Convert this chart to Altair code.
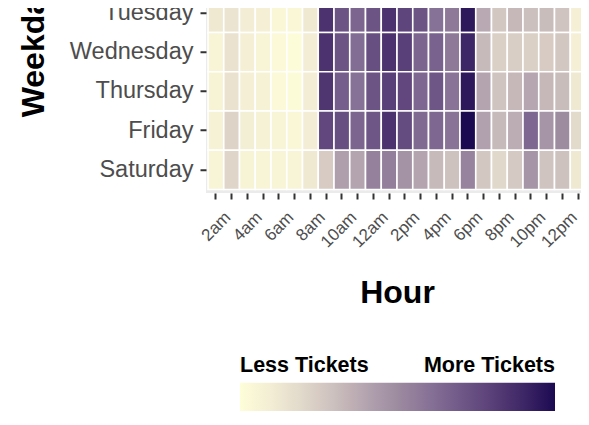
import altair as alt
import pandas as pd

days = ["Tuesday", "Wednesday", "Thursday", "Friday", "Saturday"]
hours = list(range(1, 25))
hour_labels = ["2am", "4am", "6am", "8am", "10am", "12am",
               "2pm", "4pm", "6pm", "8pm", "10pm", "12pm"]

tuesday = [0.12, 0.14, 0.10, 0.08, 0.04, 0.04, 0.12, 0.85, 0.72, 0.65, 0.72, 0.85,
           0.78, 0.72, 0.60, 0.57, 0.95, 0.38, 0.27, 0.33, 0.30, 0.31, 0.28, 0.08]
wednesday = [0.05, 0.15, 0.08, 0.05, 0.03, 0.01, 0.10, 0.85, 0.72, 0.62, 0.74, 0.85,
             0.80, 0.65, 0.66, 0.57, 0.90, 0.32, 0.23, 0.24, 0.23, 0.25, 0.27, 0.08]
thursday = [0.06, 0.15, 0.08, 0.07, 0.03, 0.02, 0.10, 0.84, 0.68, 0.60, 0.72, 0.80,
            0.77, 0.64, 0.71, 0.59, 0.95, 0.40, 0.28, 0.33, 0.39, 0.33, 0.31, 0.12]
friday = [0.07, 0.22, 0.09, 0.07, 0.05, 0.04, 0.10, 0.77, 0.74, 0.65, 0.71, 0.85,
          0.75, 0.63, 0.64, 0.59, 1.00, 0.41, 0.32, 0.37, 0.64, 0.46, 0.50, 0.19]
saturday = [0.05, 0.21, 0.06, 0.05, 0.05, 0.05, 0.12, 0.25, 0.42, 0.40, 0.54, 0.55,
            0.47, 0.40, 0.32, 0.29, 0.53, 0.27, 0.20, 0.26, 0.46, 0.28, 0.29, 0.12]

grad_stops = [0, 0.1, 0.2, 0.3, 0.4, 0.5, 0.6, 0.7, 0.8, 0.9, 1.0]
grad_colors = ["#FEFED9", "#F2EDD4", "#E0D8CA", "#CBC0BE", "#B3A4B0", "#9D8BA0",
               "#877297", "#705988", "#5A4078", "#3E2766", "#1B0A52"]
legend_values = [0, 1]
legend_texts = ["Less Tickets", "More Tickets"]

rows = {"Tuesday": tuesday, "Wednesday": wednesday, "Thursday": thursday,
        "Friday": friday, "Saturday": saturday}
records = []
for d in days:
    for h, v in zip(hours, rows[d]):
        records.append({"Weekday": d, "Hour": h, "Tickets": v})
df = pd.DataFrame(records)

label_array = "[" + ",".join("'" + s + "'" for s in hour_labels) + "]"
x_label_expr = "datum.value % 2 == 0 ? " + label_array + "[datum.value / 2 - 1] : ''"
legend_expr = ("datum.value < 0.5 ? '" + legend_texts[0] + "' : '" + legend_texts[1] + "'")

FONT = "Liberation Sans"

chart = alt.Chart(df).mark_rect(stroke="white", strokeWidth=1.6).encode(
    x=alt.X("Hour:O",
            scale=alt.Scale(paddingInner=0, paddingOuter=0.127),
            axis=alt.Axis(title="Hour", values=hours, labelExpr=x_label_expr,
                          labelAngle=-45, labelAlign="right", labelBaseline="alphabetic",
                          labelFontSize=17, labelColor="#4D4D4D", labelFont=FONT,
                          labelPadding=19, labelOverlap=False,
                          tickSize=6, tickWidth=2, tickColor="#333333",
                          domain=False, grid=False,
                          titleFont=FONT, titleFontSize=32, titleFontWeight="bold",
                          titleColor="black", titleY=109, titleBaseline="alphabetic")),
    y=alt.Y("Weekday:N", sort=days,
            scale=alt.Scale(paddingInner=0, paddingOuter=0.09),
            axis=alt.Axis(title="Weekday", labelFontSize=23.5, labelColor="#4D4D4D",
                          labelFont=FONT, labelPadding=7, labelOverlap=False,
                          tickSize=6, tickWidth=2, tickColor="#333333",
                          domain=False, grid=False,
                          titleFont=FONT, titleFontSize=32, titleFontWeight="bold",
                          titleColor="black", titleX=-163, titleY=58,
                          titleAlign="center", titleBaseline="alphabetic", titleAngle=270)),
    color=alt.Color("Tickets:Q",
                    scale=alt.Scale(domain=grad_stops, range=grad_colors),
                    legend=alt.Legend(orient="none", legendX=34, legendY=393,
                                      direction="horizontal", title=None,
                                      gradientLength=315, gradientThickness=42,
                                      gradientStrokeWidth=0,
                                      values=legend_values,
                                      labelExpr=legend_expr,
                                      labelFont=FONT, labelFontSize=21.5,
                                      labelFontWeight="bold", labelColor="black",
                                      labelOffset={"expr": "-70"},
                                      labelOverlap=False, padding=0)),
).properties(
    width=382,
    height=203.25,
    autosize=alt.AutoSizeParams(type="none"),
    padding={"left": 198, "top": -18.25, "right": -7, "bottom": 218},
).configure_view(fill="#EBEBEB", stroke=None)

chart.save("out.html", embed_options={"renderer": "svg", "actions": False})
